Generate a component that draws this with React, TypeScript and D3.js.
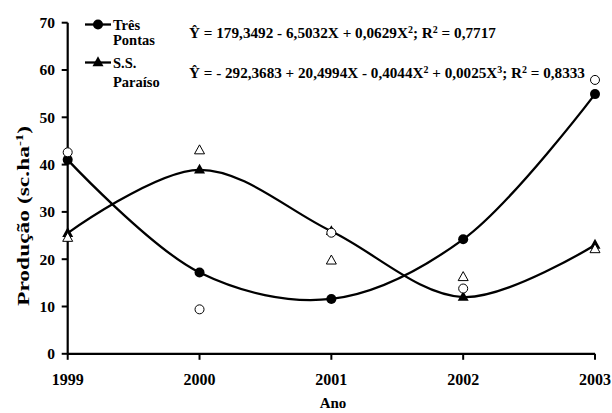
import React, { useEffect, useRef, useState } from "react";
import * as d3 from "d3";

const years = [1999, 2000, 2001, 2002, 2003];
const tpFitted = [41.0, 17.2, 11.6, 24.2, 54.9];
const tpObserved = [42.6, 9.4, 25.6, 13.8, 57.9];
const spFitted = [25.5, 38.9, 25.9, 12.0, 23.0];
const spObserved = [24.5, 43.0, 19.7, 16.2, 22.1];
const yTicks = [0, 10, 20, 30, 40, 50, 60, 70];
const legendLines = [["Três", "Pontas"], ["S.S.", "Paraíso"]];
// segments: [text, superscript?]
const eq1: [string, boolean][] = [["Ŷ = 179,3492  - 6,5032X + 0,0629X", false], ["2", true], ["; R", false], ["2", true], [" = 0,7717", false]];
const eq2: [string, boolean][] = [["Ŷ = - 292,3683 + 20,4994X - 0,4044X", false], ["2", true], [" + 0,0025X", false], ["3", true], ["; R", false], ["2", true], [" = 0,8333", false]];

const W = 612;
const H = 413;
const FONT = "'Liberation Serif', 'Times New Roman', Times, 'DejaVu Serif', serif";

function Segs({ segs, shift = 5, supSize = 9.5 }: { segs: [string, boolean][]; shift?: number; supSize?: number }) {
  let prevSup = false;
  return (
    <>
      {segs.map(([t, s], i) => {
        let dy = 0;
        if (s && !prevSup) dy = -shift;
        if (!s && prevSup) dy = shift;
        prevSup = s;
        return (
          <tspan key={i} dy={dy} fontSize={s ? supSize : undefined}>
            {t}
          </tspan>
        );
      })}
    </>
  );
}

function FitText({ x, y, width, segs, fontSize, shift, supSize, anchorRotate }: { x: number; y: number; width: number; segs: [string, boolean][]; fontSize: number; shift?: number; supSize?: number; anchorRotate?: boolean }) {
  const ref = useRef<SVGTextElement>(null);
  const [s, setS] = useState(1);
  useEffect(() => {
    if (ref.current) {
      const w = ref.current.getBBox().width;
      if (w > 0) setS(width / w);
    }
  }, [width]);
  const tf = anchorRotate
    ? `translate(${x},${y}) rotate(-90) scale(${s},1)`
    : `translate(${x},${y}) scale(${s},1)`;
  return (
    <g transform={tf}>
      <text ref={ref} x={0} y={0} fontSize={fontSize} textAnchor={anchorRotate ? "middle" : "start"}>
        <Segs segs={segs} shift={shift} supSize={supSize} />
      </text>
    </g>
  );
}

export default function App() {
  const x = d3.scaleLinear().domain([1999, 2003]).range([67.7, 595]);
  const y = d3.scaleLinear().domain([0, 70]).range([353.8, 22.7]);

  const line = d3
    .line<number>()
    .x((_, i) => x(years[i]))
    .y((d) => y(d))
    .curve(d3.curveCatmullRom.alpha(0.5));

  const tri = (cx: number, cy: number, s: number) => {
    const h = s * 0.9;
    return `M${cx},${cy - h * 0.62}L${cx + s / 2},${cy + h * 0.38}L${cx - s / 2},${cy + h * 0.38}Z`;
  };

  const textStyle: React.CSSProperties = { fontFamily: FONT, fontWeight: "bold", whiteSpace: "pre" };

  return (
    <svg width={W} height={H} style={{ position: "absolute", left: 0, top: 0, background: "#fff" }}>
      <rect width={W} height={H} fill="#fff" />
      <g style={textStyle}>
        {/* axes */}
        <line x1={x(1999)} x2={x(2003)} y1={y(0)} y2={y(0)} stroke="#000" strokeWidth={2.2} />
        <line x1={x(1999)} x2={x(1999)} y1={y(0)} y2={y(70)} stroke="#000" strokeWidth={2.2} />
        {yTicks.map((t) => (
          <g key={t}>
            <line x1={x(1999) - 6} x2={x(1999)} y1={y(t)} y2={y(t)} stroke="#000" strokeWidth={2} />
            <text x={55} y={y(t)} dy="0.35em" textAnchor="end" fontSize={15.5}>{t}</text>
          </g>
        ))}
        {years.map((yr) => (
          <g key={yr}>
            <line x1={x(yr)} x2={x(yr)} y1={y(0)} y2={y(0) + 6} stroke="#000" strokeWidth={2} />
            <text x={x(yr)} y={384.5} textAnchor="middle" fontSize={16}>{yr}</text>
          </g>
        ))}
        <text x={333} y={408} textAnchor="middle" fontSize={15}>Ano</text>
        <FitText x={29} y={216} width={180} fontSize={16} shift={6} supSize={10} anchorRotate segs={[["Produção (sc.ha", false], ["-1", true], [")", false]]} />

        {/* curves */}
        <path d={line(tpFitted) || ""} fill="none" stroke="#000" strokeWidth={2.3} />
        <path d={line(spFitted) || ""} fill="none" stroke="#000" strokeWidth={2.3} />

        {/* fitted markers */}
        {tpFitted.map((v, i) => (
          <circle key={"tf" + i} cx={x(years[i])} cy={y(v)} r={5} fill="#000" />
        ))}
        {spFitted.map((v, i) => (
          <path key={"sf" + i} d={tri(x(years[i]), y(v), 11)} fill="#000" />
        ))}
        {/* observed markers */}
        {tpObserved.map((v, i) => (
          <circle key={"to" + i} cx={x(years[i])} cy={y(v)} r={4.5} fill="#fff" stroke="#000" strokeWidth={1} />
        ))}
        {spObserved.map((v, i) => (
          <path key={"so" + i} d={tri(x(years[i]), y(v), 10)} fill="#fff" stroke="#000" strokeWidth={1} />
        ))}

        {/* legend */}
        <line x1={85} x2={111} y1={24.5} y2={24.5} stroke="#000" strokeWidth={2.3} />
        <circle cx={98} cy={24.5} r={5} fill="#000" />
        <text x={113} y={29.5} fontSize={14.5}>{legendLines[0][0]}</text>
        <text x={113} y={45} fontSize={14.5}>{legendLines[0][1]}</text>
        <line x1={85} x2={111} y1={62.5} y2={62.5} stroke="#000" strokeWidth={2.3} />
        <path d={tri(98, 62.5, 11)} fill="#000" />
        <text x={113} y={67.5} fontSize={14.5}>{legendLines[1][0]}</text>
        <text x={113} y={87} fontSize={14.5}>{legendLines[1][1]}</text>

        {/* equations */}
        <FitText x={189} y={37.5} width={307} fontSize={14.5} segs={eq1} />
        <FitText x={189} y={77.5} width={396} fontSize={14.5} segs={eq2} />
      </g>
    </svg>
  );
}
